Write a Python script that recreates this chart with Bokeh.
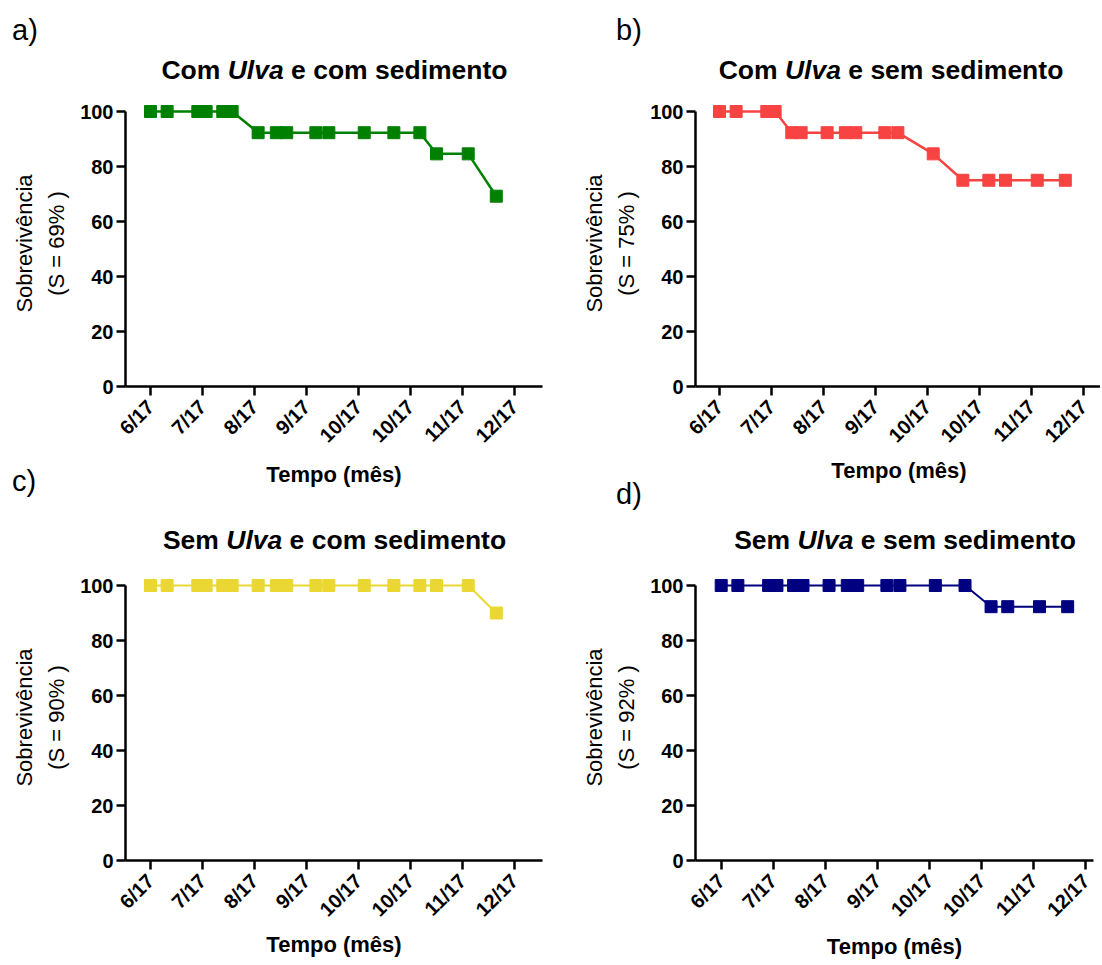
from bokeh.plotting import figure
from bokeh.layouts import row, column
from bokeh.models import Range1d, FixedTicker, ColumnDataSource, Div
from bokeh.embed import file_html
from bokeh.resources import INLINE

# ---------------- data ----------------
tempo = [0.0, 0.32, 0.91, 1.07, 1.39, 1.57, 2.07, 2.42, 2.62, 3.18, 3.43,
         4.11, 4.68, 5.18, 5.50, 6.11, 6.65]
meses = ["6/17", "7/17", "8/17", "9/17", "10/17", "10/17", "11/17", "12/17"]
y_ticks = [0, 20, 40, 60, 80, 100]

sobrev_a = [100, 100, 100, 100, 100, 100, 92.3, 92.3, 92.3, 92.3, 92.3,
            92.3, 92.3, 92.3, 84.6, 84.6, 69.2]
sobrev_b = [100, 100, 100, 100, 92.3, 92.3, 92.3, 92.3, 92.3, 92.3, 92.3,
            84.6, 75, 75, 75, 75, 75]
sobrev_c = [100, 100, 100, 100, 100, 100, 100, 100, 100, 100, 100,
            100, 100, 100, 100, 100, 90]
sobrev_d = [100, 100, 100, 100, 100, 100, 100, 100, 100, 100, 100,
            100, 100, 92.3, 92.3, 92.3, 92.3]

titulo_inicio = ["Com ", "Com ", "Sem ", "Sem "]
titulo_fim = [" e com sedimento", " e sem sedimento", " e com sedimento", " e sem sedimento"]
s_final = ["69", "75", "90", "92"]
letras = ["a)", "b)", "c)", "d)"]
cores = ["#008000", "#F84343", "#EAD733", "#000080"]

FONT = "Liberation Sans"
YPPU = 2.75          # px per survival unit
YMAX = 104

# page-pixel geometry
COLX = [0, 566]
COLW = [566, 534]
geo = [
    dict(col=0, fy=90, fh=404, left=125, right=542, tick0=150.0, ppu=52.0, zero=386, xls=5),
    dict(col=1, fy=90, fh=400, left=686, right=1093, tick0=710.0, ppu=52.0, zero=386, xls=1),
    dict(col=0, fy=562, fh=402, left=125, right=542, tick0=150.0, ppu=52.0, zero=860, xls=1),
    dict(col=1, fy=562, fh=402, left=695, right=1093, tick0=720.7, ppu=52.1, zero=860, xls=3),
]
# heading strips: top, height, letter x / baseline, title centre x / baseline (page px)
strips = [
    dict(col=0, fy=0, fh=90, lx=12, lby=40, tcx=334.5, tby=79),
    dict(col=1, fy=0, fh=90, lx=616, lby=40, tcx=891, tby=79),
    dict(col=0, fy=494, fh=68, lx=12, lby=491, tcx=334.5, tby=549),
    dict(col=1, fy=490, fh=72, lx=616, lby=504, tcx=905, tby=549),
]

series = [sobrev_a, sobrev_b, sobrev_c, sobrev_d]
lws = [2.5, 2.5, 2.0, 2.0]


def painel(i):
    g = geo[i]
    fx, fw_tot = COLX[g['col']], COLW[g['col']]
    fw = g['right'] - g['left']
    fh = int(round(YMAX * YPPU))
    top = g['zero'] - fh
    x0 = -(g['tick0'] - g['left']) / g['ppu']
    x1 = x0 + fw / g['ppu']
    p = figure(frame_width=fw, frame_height=fh,
               min_border_left=g['left'] - fx,
               min_border_right=fx + fw_tot - g['right'],
               min_border_top=top - g['fy'],
               min_border_bottom=g['fy'] + g['fh'] - g['zero'],
               x_range=Range1d(x0, x1), y_range=Range1d(0, YMAX),
               output_backend="svg", toolbar_location=None)
    p.outline_line_color = None
    p.xgrid.visible = False
    p.ygrid.visible = False
    p.background_fill_color = "white"
    p.border_fill_color = "white"

    src = ColumnDataSource(dict(t=tempo, s=series[i]))
    p.line('t', 's', source=src, line_width=lws[i], line_color=cores[i])
    p.scatter('t', 's', source=src, marker="square", size=12,
              fill_color=cores[i], line_color=cores[i])

    for ax in (p.xaxis[0], p.yaxis[0]):
        ax.axis_line_width = 2.5
        ax.axis_line_color = "black"
        ax.major_tick_line_width = 2.5
        ax.major_tick_line_color = "black"
        ax.major_tick_out = 9
        ax.major_tick_in = 0
        ax.minor_tick_out = 0
        ax.minor_tick_in = 0
        ax.major_label_text_font = FONT
        ax.major_label_text_font_style = "bold"
        ax.major_label_text_color = "black"
        ax.axis_label_text_font = FONT
        ax.axis_label_text_color = "black"

    xa = p.xaxis[0]
    xa.ticker = FixedTicker(ticks=list(range(len(meses))), minor_ticks=[])
    xa.major_label_overrides = {k: m for k, m in enumerate(meses)}
    xa.major_label_orientation = 0.785398
    xa.major_label_text_font_size = "20px"
    xa.major_label_standoff = 8
    xa.axis_label = "Tempo (mês)"
    xa.axis_label_text_font_style = "bold"
    xa.axis_label_text_font_size = "22px"
    xa.axis_label_standoff = g['xls']

    ya = p.yaxis[0]
    ya.ticker = FixedTicker(ticks=y_ticks, minor_ticks=[])
    ya.bounds = (0, 100)
    ya.major_label_text_font_size = "20px"
    ya.major_label_standoff = 3
    ya.axis_label = "Sobrevivência\n(S = %s%% )" % s_final[i]
    ya.axis_label_text_font_style = "normal"
    ya.axis_label_text_font_size = "22px"
    ya.axis_label_text_line_height = 1.3
    ya.axis_label_standoff = 8
    return p


def faixa(i):
    s = strips[i]
    fx, w = COLX[s['col']], COLW[s['col']]
    h = s['fh']
    fl, ft = 29, 26.5
    letter_top = (s['lby'] - s['fy']) - 0.8465 * fl
    title_top = (s['tby'] - s['fy']) - 0.8465 * ft
    html = (
        '<div style="position:relative;width:%dpx;height:%dpx;font-family:\'%s\';'
        'color:black;overflow:visible;">'
        '<span style="position:absolute;left:%.1fpx;top:%.1fpx;font-size:%dpx;'
        'line-height:1;white-space:nowrap;">%s</span>'
        '<span style="position:absolute;left:%.1fpx;top:%.1fpx;font-size:%.1fpx;'
        'line-height:1;font-weight:bold;white-space:nowrap;transform:translateX(-50%%);">'
        '%s<i>Ulva</i>%s</span></div>'
    ) % (w, h, FONT, s['lx'] - fx, letter_top, fl, letras[i],
         s['tcx'] - fx, title_top, ft, titulo_inicio[i], titulo_fim[i])
    return Div(text=html, width=w, height=h, margin=0,
               styles={"overflow": "visible"})


figs = [painel(i) for i in range(4)]
heads = [faixa(i) for i in range(4)]

layout = row(column(heads[0], figs[0], heads[2], figs[2]),
             column(heads[1], figs[1], heads[3], figs[3]))
open("out.html", "w").write(file_html(layout, INLINE))
